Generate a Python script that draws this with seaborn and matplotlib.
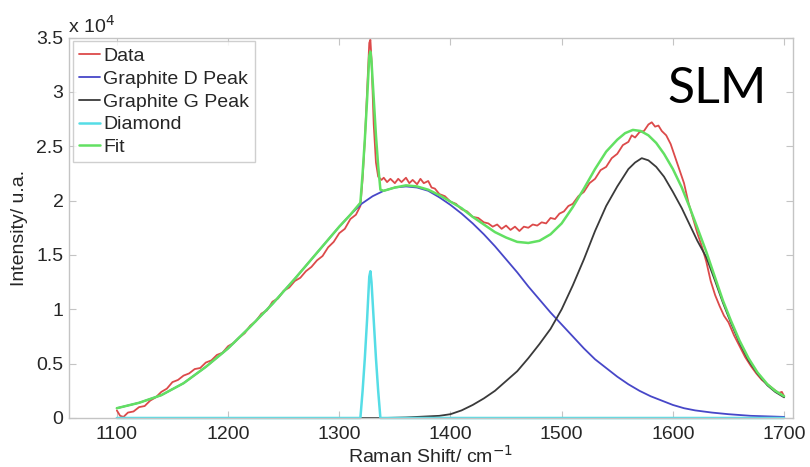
import numpy as np
import pandas as pd
import matplotlib
matplotlib.use("Agg")
import matplotlib.pyplot as plt
from matplotlib.ticker import FuncFormatter
import seaborn as sns

# ---- data (intensity in units of 10^4) ----
data_x = [1100, 1103, 1106, 1110, 1115, 1120, 1125, 1130, 1135, 1140, 1145, 1150, 1155, 1160, 1165,
          1170, 1175, 1180, 1185, 1190, 1195, 1200, 1205, 1210, 1215, 1220, 1225, 1230, 1235, 1240,
          1245, 1250, 1255, 1260, 1265, 1270, 1275, 1280, 1285, 1290, 1295, 1300, 1305, 1310, 1315,
          1319, 1321, 1323, 1325, 1327, 1328, 1329, 1331, 1333, 1335, 1338, 1340, 1343, 1346, 1350,
          1353, 1356, 1360, 1363, 1366, 1370, 1373, 1376, 1380, 1383, 1386, 1390, 1395, 1400, 1405,
          1410, 1415, 1420, 1425, 1430, 1434, 1438, 1442, 1446, 1450, 1454, 1458, 1462, 1466, 1470,
          1474, 1478, 1482, 1486, 1490, 1494, 1498, 1502, 1506, 1510, 1515, 1520, 1525, 1530, 1535,
          1540, 1545, 1550, 1555, 1560, 1563, 1566, 1570, 1574, 1578, 1581, 1584, 1587, 1590, 1594,
          1598, 1602, 1606, 1610, 1614, 1618, 1622, 1626, 1630, 1634, 1638, 1642, 1646, 1650, 1655,
          1660, 1665, 1670, 1675, 1680, 1685, 1690, 1695, 1698, 1700]
data_y = [0.07, 0.02, 0.01, 0.05, 0.06, 0.10, 0.11, 0.16, 0.19, 0.24, 0.27, 0.33, 0.35, 0.39, 0.41,
          0.45, 0.46, 0.51, 0.53, 0.58, 0.60, 0.66, 0.69, 0.74, 0.78, 0.85, 0.89, 0.96, 0.99, 1.07,
          1.10, 1.17, 1.20, 1.26, 1.29, 1.35, 1.39, 1.45, 1.49, 1.57, 1.62, 1.70, 1.74, 1.83, 1.87,
          1.95, 2.20, 2.55, 3.00, 3.45, 3.48, 3.30, 2.70, 2.35, 2.22, 2.19, 2.21, 2.17, 2.20, 2.16,
          2.20, 2.17, 2.21, 2.16, 2.19, 2.15, 2.20, 2.16, 2.18, 2.12, 2.11, 2.06, 2.04, 1.99, 1.97,
          1.92, 1.90, 1.85, 1.84, 1.80, 1.79, 1.76, 1.78, 1.74, 1.77, 1.73, 1.76, 1.72, 1.76, 1.75,
          1.78, 1.77, 1.80, 1.79, 1.84, 1.83, 1.88, 1.90, 1.95, 1.97, 2.04, 2.08, 2.16, 2.20, 2.28,
          2.31, 2.39, 2.43, 2.51, 2.54, 2.60, 2.58, 2.63, 2.64, 2.70, 2.72, 2.68, 2.69, 2.64, 2.60,
          2.52, 2.40, 2.28, 2.16, 1.98, 1.84, 1.70, 1.58, 1.44, 1.26, 1.13, 1.03, 0.94, 0.88, 0.76,
          0.66, 0.56, 0.48, 0.41, 0.35, 0.31, 0.27, 0.23, 0.24, 0.20]

d_peak_x = [1100, 1120, 1140, 1160, 1180, 1200, 1220, 1240, 1260, 1280, 1300, 1310, 1320, 1330,
            1340, 1350, 1360, 1370, 1380, 1390, 1400, 1410, 1420, 1430, 1440, 1450, 1460, 1470,
            1480, 1490, 1500, 1510, 1520, 1530, 1540, 1550, 1560, 1570, 1580, 1590, 1600, 1610,
            1620, 1635, 1650, 1670, 1700]
d_peak_y = [0.09, 0.14, 0.21, 0.32, 0.47, 0.64, 0.84, 1.05, 1.28, 1.52, 1.76, 1.87, 1.97, 2.04,
            2.09, 2.12, 2.13, 2.12, 2.09, 2.03, 1.96, 1.88, 1.79, 1.69, 1.58, 1.46, 1.34, 1.21,
            1.09, 0.97, 0.86, 0.75, 0.64, 0.54, 0.46, 0.38, 0.31, 0.25, 0.20, 0.16, 0.12, 0.09,
            0.07, 0.05, 0.035, 0.02, 0.01]

g_peak_x = [1100, 1200, 1300, 1340, 1360, 1380, 1390, 1400, 1410, 1420, 1430, 1440, 1450, 1460,
            1470, 1480, 1490, 1500, 1510, 1520, 1530, 1540, 1550, 1560, 1566, 1572, 1578, 1585,
            1592, 1600, 1608, 1615, 1622, 1630, 1638, 1645, 1652, 1660, 1668, 1676, 1685, 1692,
            1700]
g_peak_y = [0.0, 0.0, 0.0, 0.0, 0.005, 0.015, 0.02, 0.035, 0.07, 0.12, 0.18, 0.25, 0.34, 0.43,
            0.55, 0.68, 0.82, 1.00, 1.22, 1.46, 1.72, 1.95, 2.13, 2.29, 2.35, 2.39, 2.37, 2.31,
            2.22, 2.08, 1.93, 1.78, 1.63, 1.48, 1.26, 1.06, 0.88, 0.69, 0.53, 0.41, 0.30, 0.24,
            0.19]

diamond_x = [1100, 1319, 1321, 1323, 1325, 1327, 1328, 1329, 1331, 1333, 1335, 1337, 1700]
diamond_y = [0.0, 0.0, 0.25, 0.55, 0.90, 1.30, 1.35, 1.25, 0.90, 0.55, 0.25, 0.0, 0.0]

fit_x = [1100, 1120, 1140, 1160, 1180, 1200, 1220, 1240, 1260, 1280, 1300, 1310, 1319, 1321,
         1323, 1325, 1327, 1328, 1329, 1331, 1333, 1335, 1337, 1340, 1350, 1360, 1370, 1380,
         1390, 1400, 1410, 1420, 1430, 1440, 1450, 1460, 1470, 1480, 1490, 1500, 1510, 1520,
         1530, 1540, 1550, 1557, 1564, 1571, 1578, 1585, 1592, 1600, 1608, 1615, 1622, 1630,
         1638, 1645, 1652, 1660, 1668, 1676, 1685, 1692, 1700]
fit_y = [0.09, 0.14, 0.21, 0.32, 0.47, 0.64, 0.84, 1.05, 1.28, 1.52, 1.76, 1.87, 1.98, 2.25,
         2.56, 2.92, 3.33, 3.37, 3.28, 2.94, 2.60, 2.32, 2.10, 2.09, 2.12, 2.14, 2.13, 2.10,
         2.05, 1.99, 1.93, 1.85, 1.78, 1.71, 1.66, 1.62, 1.61, 1.63, 1.69, 1.79, 1.94, 2.11,
         2.29, 2.45, 2.56, 2.62, 2.65, 2.64, 2.60, 2.53, 2.43, 2.29, 2.12, 1.94, 1.75, 1.53,
         1.29, 1.08, 0.90, 0.71, 0.55, 0.42, 0.31, 0.25, 0.20]

labels = ["Data", "Graphite D Peak", "Graphite G Peak", "Diamond", "Fit"]
colors = ["#dc4a4a", "#4747c8", "#3a3a3a", "#55dde6", "#62e062"]
widths = [1.3, 1.3, 1.3, 1.8, 1.8]

x_ticks = [1100, 1200, 1300, 1400, 1500, 1600, 1700]
y_ticks = [0, 0.5, 1, 1.5, 2, 2.5, 3, 3.5]

series = [(data_x, data_y), (d_peak_x, d_peak_y), (g_peak_x, g_peak_y),
          (diamond_x, diamond_y), (fit_x, fit_y)]

# ---- plotting ----
sns.set_theme(style="white")
plt.rcParams["font.family"] = ["Liberation Sans", "DejaVu Sans"]
txt = "#262626"
edge = "#c4c4c4"

fig = plt.figure(figsize=(8.10, 4.67), dpi=100)
ax = fig.add_axes([69 / 810, 1 - 418 / 467, (793 - 69) / 810, (418 - 37.5) / 467])

for (xs, ys), lab, col, lw in zip(series, labels, colors, widths):
    df = pd.DataFrame({"x": xs, "y": ys})
    sns.lineplot(data=df, x="x", y="y", ax=ax, color=col, linewidth=lw, label=lab,
                 estimator=None, sort=False)

# diamond baseline sits on the x axis; let it show fully
ax.get_lines()[3].set_clip_on(False)

ax.set_xlim(1057, 1708)
ax.set_ylim(0, 3.5)
ax.set_xticks(x_ticks)
ax.set_yticks(y_ticks)
ax.yaxis.set_major_formatter(FuncFormatter(lambda v, p: f"{v:g}"))
ax.tick_params(axis="both", which="both", direction="in", length=5, width=0.8,
               color=edge, labelcolor=txt, labelsize=14, top=True, right=True,
               bottom=True, left=True)
ax.tick_params(axis="x", pad=6)
ax.tick_params(axis="y", pad=4)
for s in ax.spines.values():
    s.set_color(edge)
    s.set_linewidth(1.0)

ax.set_xlabel("Raman Shift/ cm$^{-1}$", fontsize=14, color=txt, labelpad=1)
ax.set_ylabel("Intensity/ u.a.", fontsize=14, color=txt, labelpad=6)

fig.text(68 / 810, 1 - 33 / 467, "x 10$^4$", fontsize=14, color=txt, ha="left", va="baseline")
ax.text(1640, 3.03, "SLM", fontsize=36, color="black", ha="center", va="center",
        family=["Lato", "DejaVu Sans"], fontweight="normal")

leg = ax.legend(loc="upper left", fontsize=14, frameon=True, fancybox=False,
                edgecolor=edge, borderaxespad=0.2, handlelength=1.1, handletextpad=0.15,
                labelspacing=0.27, borderpad=0.3)
leg.get_frame().set_linewidth(1.0)
for t in leg.get_texts():
    t.set_color(txt)

fig.savefig("out.png", dpi=100)
